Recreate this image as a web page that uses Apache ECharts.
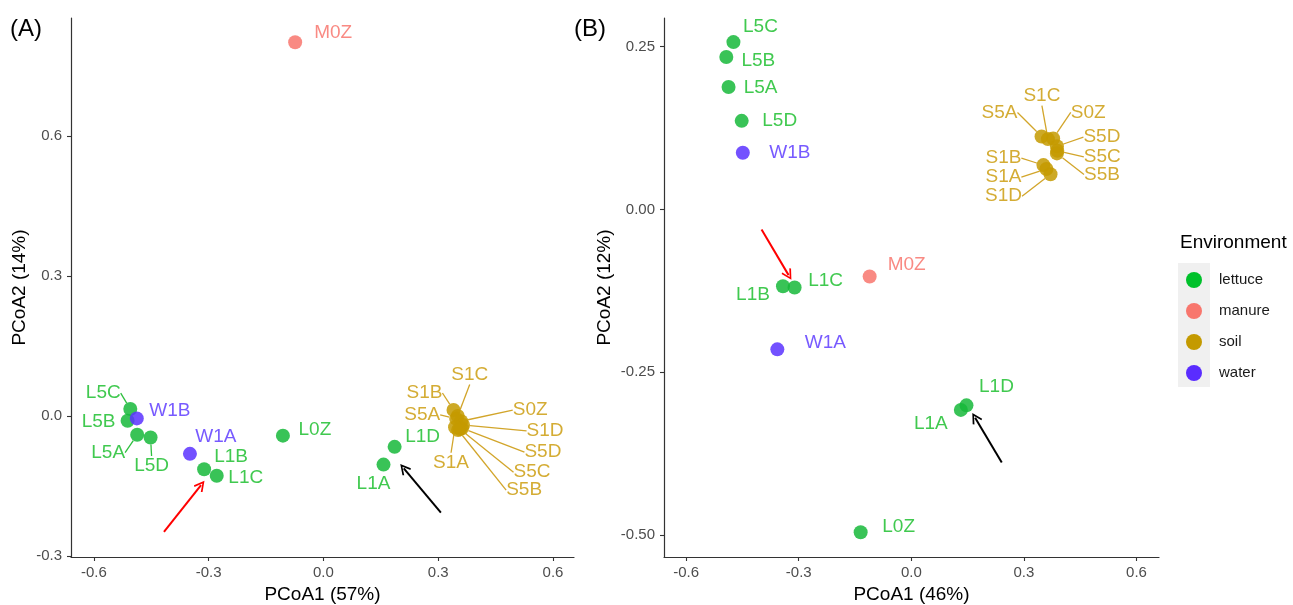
<!DOCTYPE html>
<html><head><meta charset="utf-8">
<script src="https://cdn.jsdelivr.net/npm/echarts@6/dist/echarts.min.js"></script>
<style>html,body{margin:0;padding:0;background:#fff}#c{width:1293px;height:605px}</style>
</head><body><div id="c"></div>
<script>
// ---------- data ----------
const environments = ['lettuce', 'manure', 'soil', 'water'];

// Panel (A)
const samplesA = ['M0Z','L5C','L5B','L5A','L5D','W1B','W1A','L1B','L1C','L0Z','L1D','L1A','S1C','S1B','S5A','S0Z','S1D','S5D','S5C','S5B','S1A'];
const envA = ['manure','lettuce','lettuce','lettuce','lettuce','water','water','lettuce','lettuce','lettuce','lettuce','lettuce','soil','soil','soil','soil','soil','soil','soil','soil','soil'];
const pc1A = [-0.074,-0.505,-0.512,-0.487,-0.452,-0.488,-0.349,-0.312,-0.279,-0.106,0.186,0.157,0.351,0.340,0.347,0.360,0.365,0.362,0.357,0.352,0.344];
const pc2A = [0.801,0.015,-0.010,-0.040,-0.046,-0.005,-0.081,-0.114,-0.128,-0.042,-0.066,-0.104,0.000,0.013,-0.006,-0.011,-0.019,-0.026,-0.028,-0.030,-0.024];
const xTicksA = [-0.6,-0.3,0.0,0.3,0.6];
const yTicksA = [-0.3,0.0,0.3,0.6];
const arrowsA = [
  {from:[-0.417,-0.248], to:[-0.320,-0.148], color:'red'},
  {from:[0.307,-0.207], to:[0.210,-0.112], color:'black'}
];

// Panel (B)
const samplesB = ['L5C','L5B','L5A','L5D','W1B','L1B','L1C','M0Z','W1A','L1D','L1A','L0Z','S5A','S1C','S0Z','S5D','S5C','S5B','S1B','S1A','S1D'];
const envB = ['lettuce','lettuce','lettuce','lettuce','water','lettuce','lettuce','manure','water','lettuce','lettuce','lettuce','soil','soil','soil','soil','soil','soil','soil','soil','soil'];
const pc1B = [-0.474,-0.493,-0.487,-0.452,-0.449,-0.342,-0.311,-0.111,-0.357,0.147,0.132,-0.135,0.347,0.364,0.378,0.388,0.389,0.388,0.352,0.360,0.371];
const pc2B = [0.257,0.234,0.188,0.136,0.087,-0.118,-0.120,-0.103,-0.215,-0.301,-0.308,-0.496,0.112,0.108,0.109,0.097,0.090,0.086,0.068,0.062,0.054];
const xTicksB = [-0.6,-0.3,0.0,0.3,0.6];
const yTicksB = [-0.5,-0.25,0.0,0.25];
const arrowsB = [
  {from:[-0.399,-0.031], to:[-0.327,-0.101], color:'red'},
  {from:[0.241,-0.389], to:[0.170,-0.320], color:'black'}
];

// ---------- layout / style ----------
const FONT = '"Liberation Sans", Arial, sans-serif';
const POINT_COLORS = {lettuce:'#16b83a', manure:'#f8766d', soil:'#c49a00', water:'#5b33ff'};
const LEGEND_COLORS = {lettuce:'#00c12b', manure:'#f8766d', soil:'#c49a00', water:'#5a2cff'};
const TEXT_COLORS = {lettuce:'#1fbf30', manure:'#f8766d', soil:'#cc9e10', water:'#5f3dff'};
const LINE_COLORS = {lettuce:'#2ebf3f', manure:'#f8766d', soil:'#d2a52a', water:'#5f3dff'};

// label centre offsets (px) relative to the point, and which labels get a leader segment
const labelOffsetA = {
  M0Z:[38,-10], L5C:[-27,-16], L5B:[-29,1], W1B:[33,-8], L5A:[-29,18], L5D:[1,28],
  W1A:[26,-17], L1B:[27,-13], L1C:[29,2], L0Z:[32,-6], L1D:[28,-10], L1A:[-10,19],
  S1C:[12,-41], S1B:[-29,-17], S5A:[-34,-4], S0Z:[69,-11], S1D:[82,6], S5D:[81,24],
  S5C:[72,43], S5B:[66,60], S1A:[-4,35]
};
const leadersA = ['L5C','L5A','L5D','S1C','S1B','S5A','S0Z','S1D','S5D','S5C','S5B','S1A'];
const labelOffsetB = {
  L5C:[27,-15], L5B:[32,4], L5A:[32,1], L5D:[38,0], W1B:[47,0], L1C:[31,-7], L1B:[-30,9],
  M0Z:[37,-12], W1A:[48,-7], L1D:[30,-19], L1A:[-30,14], L0Z:[38,-5],
  S1C:[-6,-43], S5A:[-42,-24], S0Z:[35,-26], S5D:[45,-9], S5C:[45,6], S5B:[45,21],
  S1B:[-40,-7], S1A:[-43,8], S1D:[-47,22]
};
const leadersB = ['S1C','S5A','S0Z','S5D','S5C','S5B','S1B','S1A','S1D'];

const ARROW = 'path://M0,10 L6,0 L12,10 L10.4,11 L6,3.4 L1.6,11 Z';

function fmt(v, d){ return (Math.abs(v) < 1e-9 ? 0 : v).toFixed(d); }

function xAxis(gi, min, max, ticks, name, d){
  return {type:'value', gridIndex:gi, min:min, max:max, name:name, nameLocation:'middle', nameGap:28,
    nameTextStyle:{fontSize:19, color:'#000', fontFamily:FONT},
    axisLine:{show:true, onZero:false, lineStyle:{color:'#333', width:1.2}},
    axisTick:{show:true, length:4, customValues:ticks, lineStyle:{color:'#333', width:1.1}},
    axisLabel:{customValues:ticks, formatter:v=>fmt(v,d), fontSize:15, color:'#4d4d4d', margin:8, fontFamily:FONT},
    splitLine:{show:false}};
}
function yAxis(gi, min, max, ticks, name, d, gap){
  return {type:'value', gridIndex:gi, min:min, max:max, name:name, nameLocation:'middle', nameGap:gap,
    nameTextStyle:{fontSize:19, color:'#000', fontFamily:FONT},
    axisLine:{show:true, onZero:false, lineStyle:{color:'#333', width:1.2}},
    axisTick:{show:true, length:4, customValues:ticks, lineStyle:{color:'#333', width:1.1}},
    axisLabel:{customValues:ticks, formatter:v=>fmt(v,d), fontSize:15, color:'#4d4d4d', margin:9, fontFamily:FONT},
    splitLine:{show:false}};
}

function buildSeries(panel, names, env, pc1, pc2, offsets, leaders){
  return environments.map(e => {
    const idx = names.map((n,i)=>i).filter(i=>env[i]===e);
    const nm = idx.map(i=>names[i]);
    return {
      type:'scatter', name:e, xAxisIndex:panel, yAxisIndex:panel, symbolSize:14,
      itemStyle:{color:POINT_COLORS[e], opacity:0.85},
      label:{show:true, formatter:'{b}', color:TEXT_COLORS[e], fontSize:19, fontFamily:FONT},
      labelLine:{show:true, length2:0, lineStyle:{color:LINE_COLORS[e], width:1.3}},
      labelLayout: p => {
        const o = offsets[nm[p.dataIndex]] || [0,0];
        return {x:p.rect.x + p.rect.width/2 + o[0], y:p.rect.y + p.rect.height/2 + o[1], align:'center', verticalAlign:'middle'};
      },
      emphasis:{disabled:true},
      data: idx.map(i => ({name:names[i], value:[pc1[i], pc2[i]], labelLine:{show: leaders.indexOf(names[i]) >= 0}}))
    };
  });
}

function arrowSeries(panel, arrows){
  return {type:'lines', name:'arrows'+panel, coordinateSystem:'cartesian2d', xAxisIndex:panel, yAxisIndex:panel,
    symbol:['none', ARROW], symbolSize:[12,11], silent:true, z:5,
    data: arrows.map(a => ({coords:[a.from, a.to], lineStyle:{color:a.color, width:2, opacity:1}}))};
}

const chart = echarts.init(document.getElementById('c'), null, {renderer:'canvas'});
chart.setOption({
  animation:false,
  backgroundColor:'#fff',
  textStyle:{fontFamily:FONT},
  grid:[
    {left:71, top:18, width:503, height:539, outerBoundsMode:'none', containLabel:false},
    {left:664, top:18, width:495, height:539, outerBoundsMode:'none', containLabel:false}
  ],
  xAxis:[
    xAxis(0, -0.66, 0.655, xTicksA, 'PCoA1 (57%)', 1),
    xAxis(1, -0.659, 0.660, xTicksB, 'PCoA1 (46%)', 1)
  ],
  yAxis:[
    yAxis(0, -0.302, 0.853, yTicksA, 'PCoA2 (14%)', 1, 42),
    yAxis(1, -0.534, 0.294, yTicksB, 'PCoA2 (12%)', 2, 50)
  ],
  legend:{
    orient:'vertical', left:1186, top:272, padding:0, itemGap:15, itemWidth:16, itemHeight:16,
    icon:'circle', selectedMode:false,
    textStyle:{fontSize:15, color:'#1a1a1a', fontFamily:FONT, padding:[0,0,0,12]},
    data: environments.map(e => ({name:e, itemStyle:{color:LEGEND_COLORS[e], opacity:1}}))
  },
  graphic:[
    {type:'rect', left:1178, top:263, shape:{width:32, height:124}, style:{fill:'#f0f0f0'}, z:-1, silent:true},
    {type:'text', left:1180, top:233, style:{text:'Environment', fill:'#000', font:'19px '+FONT}},
    {type:'text', left:10, top:17, style:{text:'(A)', fill:'#000', font:'24px '+FONT}},
    {type:'text', left:574, top:17, style:{text:'(B)', fill:'#000', font:'24px '+FONT}}
  ],
  series: [].concat(
    buildSeries(0, samplesA, envA, pc1A, pc2A, labelOffsetA, leadersA),
    buildSeries(1, samplesB, envB, pc1B, pc2B, labelOffsetB, leadersB),
    [arrowSeries(0, arrowsA), arrowSeries(1, arrowsB)]
  )
});
</script></body></html>
